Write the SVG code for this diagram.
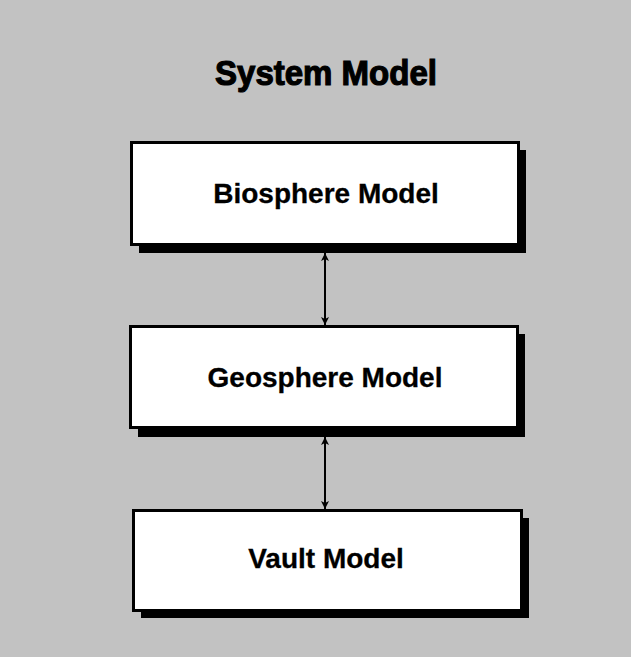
<svg xmlns="http://www.w3.org/2000/svg" width="631" height="657" viewBox="0 0 631 657">
  <defs>
    <marker id="ah" viewBox="0 0 10 10" refX="10" refY="5" markerWidth="11" markerHeight="8" orient="auto-start-reverse" markerUnits="userSpaceOnUse">
      <path d="M0,0 L10,5 L0,10 L2.5,5 Z" fill="#000"/>
    </marker>
    <style>
      .box { fill: #ffffff; stroke: #000; stroke-width: 3; }
      .shadow { fill: #000; }
      .label { font-family: "Liberation Sans", Arial, sans-serif; font-weight: bold; font-size: 28px; fill: #000; text-anchor: middle; stroke: #000; stroke-width: 0.3; }
      .title { font-family: "Liberation Sans", Arial, sans-serif; font-weight: bold; font-size: 35px; fill: #000; text-anchor: middle; stroke: #000; stroke-width: 1.2; }
      .conn { stroke: #000; stroke-width: 2; fill: none; }
    </style>
  </defs>

  <rect x="0" y="0" width="631" height="657" fill="#c2c2c2"/>

  <text class="title" x="326" y="85" textLength="222" lengthAdjust="spacingAndGlyphs">System Model</text>

  <g id="biosphere">
    <rect class="shadow" x="139" y="150" width="387" height="103"/>
    <rect class="box" x="131.5" y="142.5" width="387" height="102"/>
    <text class="label" x="326" y="203">Biosphere Model</text>
  </g>

  <g id="geosphere">
    <rect class="shadow" x="138" y="334" width="387" height="103"/>
    <rect class="box" x="130.5" y="326.5" width="387" height="101"/>
    <text class="label" x="325" y="387">Geosphere Model</text>
  </g>

  <g id="vault">
    <rect class="shadow" x="141" y="518" width="388" height="100"/>
    <rect class="box" x="133.5" y="510.5" width="388" height="100"/>
    <text class="label" x="326" y="568">Vault Model</text>
  </g>

  <g id="connectors">
    <line class="conn" x1="325" y1="253" x2="325" y2="325" marker-start="url(#ah)" marker-end="url(#ah)"/>
    <line class="conn" x1="325" y1="437" x2="325" y2="509" marker-start="url(#ah)" marker-end="url(#ah)"/>
  </g>
</svg>
